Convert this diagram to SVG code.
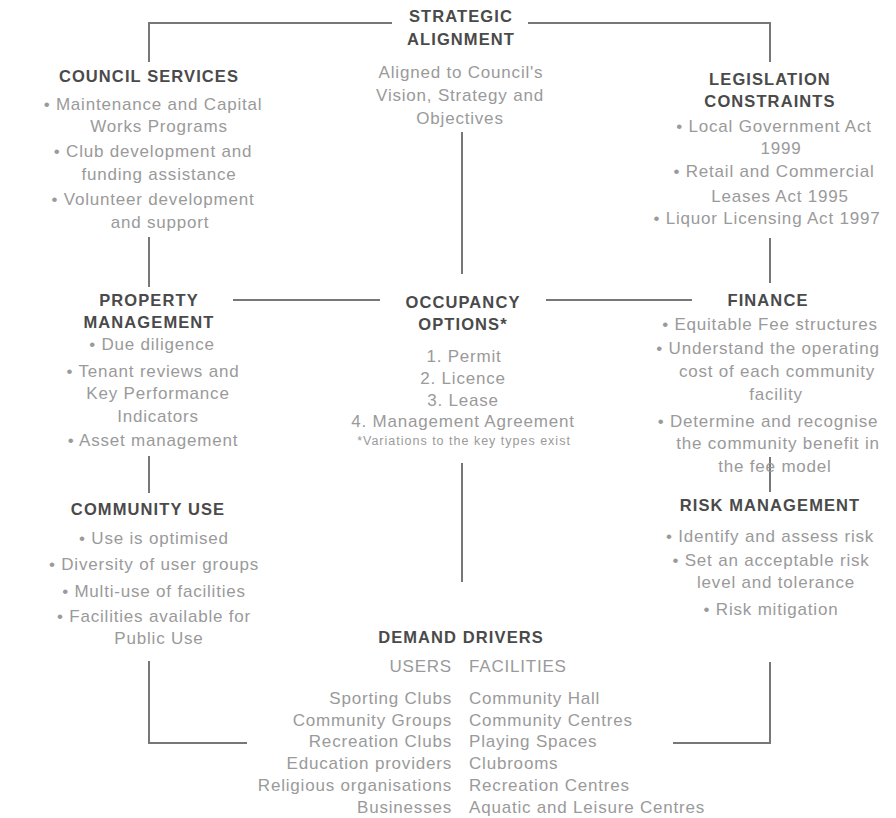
<svg xmlns="http://www.w3.org/2000/svg" width="896" height="818" viewBox="0 0 896 818">
<style>
.h{font-family:"Liberation Sans",Arial,sans-serif;font-weight:bold;font-size:16.5px;letter-spacing:1.1px;fill:#4a4a4a;text-anchor:middle}
.b{font-family:"Liberation Sans",Arial,sans-serif;font-size:17px;letter-spacing:0.8px;fill:#9a9a9a;text-anchor:middle}
.s{font-family:"Liberation Sans",Arial,sans-serif;font-size:12.5px;letter-spacing:1px;fill:#9a9a9a;text-anchor:middle}
.r{text-anchor:end}
.l{text-anchor:start}
.c{fill:none;stroke:#777;stroke-width:2}
</style>
<rect width="896" height="818" fill="#fff"/>
<g id="connectors">
<polyline class="c" points="149,62 149,23 392,23"/>
<polyline class="c" points="528,23 770,23 770,62"/>
<line class="c" x1="462" y1="132" x2="462" y2="274"/>
<line class="c" x1="149" y1="237" x2="149" y2="287"/>
<line class="c" x1="233" y1="300" x2="380" y2="300"/>
<line class="c" x1="546" y1="300" x2="692" y2="300"/>
<line class="c" x1="770" y1="238" x2="770" y2="283"/>
<line class="c" x1="149" y1="456" x2="149" y2="493"/>
<line class="c" x1="770" y1="457" x2="770" y2="492"/>
<line class="c" x1="462" y1="463" x2="462" y2="582"/>
<polyline class="c" points="149,661 149,743 247,743"/>
<polyline class="c" points="673,743 770,743 770,662"/>
</g>
<g id="strategic-alignment">
<text class="h" x="461" y="22">STRATEGIC</text>
<text class="h" x="461" y="45">ALIGNMENT</text>
<text class="b" x="461" y="78">Aligned to Council's</text>
<text class="b" x="460" y="101">Vision, Strategy and</text>
<text class="b" x="460" y="124">Objectives</text>
</g>
<g id="council-services">
<text class="h" x="149" y="82">COUNCIL SERVICES</text>
<text class="b" x="153" y="110">• Maintenance and Capital</text>
<text class="b" x="159" y="132">Works Programs</text>
<text class="b" x="153" y="157">• Club development and</text>
<text class="b" x="159" y="180">funding assistance</text>
<text class="b" x="153" y="205">• Volunteer development</text>
<text class="b" x="160" y="228">and support</text>
</g>
<g id="legislation-constraints">
<text class="h" x="770" y="85">LEGISLATION</text>
<text class="h" x="770" y="107">CONSTRAINTS</text>
<text class="b" x="774" y="132">• Local Government Act</text>
<text class="b" x="781" y="154">1999</text>
<text class="b" x="774" y="177">• Retail and Commercial</text>
<text class="b" x="780" y="202">Leases Act 1995</text>
<text class="b" x="767" y="224">• Liquor Licensing Act 1997</text>
</g>
<g id="property-management">
<text class="h" x="149" y="306">PROPERTY</text>
<text class="h" x="149" y="328">MANAGEMENT</text>
<text class="b" x="152" y="350">• Due diligence</text>
<text class="b" x="153" y="377">• Tenant reviews and</text>
<text class="b" x="158" y="399">Key Performance</text>
<text class="b" x="158" y="422">Indicators</text>
<text class="b" x="153" y="446">• Asset management</text>
</g>
<g id="occupancy-options">
<text class="h" x="463" y="308">OCCUPANCY</text>
<text class="h" x="463" y="330">OPTIONS*</text>
<text class="b" x="464" y="362">1. Permit</text>
<text class="b" x="463" y="384">2. Licence</text>
<text class="b" x="463" y="406">3. Lease</text>
<text class="b" x="463" y="427">4. Management Agreement</text>
<text class="s" x="464" y="445">*Variations to the key types exist</text>
</g>
<g id="finance">
<text class="h" x="768" y="306">FINANCE</text>
<text class="b" x="770" y="330">• Equitable Fee structures</text>
<text class="b" x="768" y="354">• Understand the operating</text>
<text class="b" x="777" y="377">cost of each community</text>
<text class="b" x="776" y="400">facility</text>
<text class="b" x="768" y="427">• Determine and recognise</text>
<text class="b" x="778" y="449">the community benefit in</text>
<text class="b" x="775" y="472">the fee model</text>
</g>
<g id="community-use">
<text class="h" x="148" y="515">COMMUNITY USE</text>
<text class="b" x="154" y="544">• Use is optimised</text>
<text class="b" x="154" y="570">• Diversity of user groups</text>
<text class="b" x="154" y="597">• Multi-use of facilities</text>
<text class="b" x="154" y="622">• Facilities available for</text>
<text class="b" x="159" y="644">Public Use</text>
</g>
<g id="risk-management">
<text class="h" x="770" y="511">RISK MANAGEMENT</text>
<text class="b" x="770" y="542">• Identify and assess risk</text>
<text class="b" x="771" y="566">• Set an acceptable risk</text>
<text class="b" x="776" y="588">level and tolerance</text>
<text class="b" x="771" y="615">• Risk mitigation</text>
</g>
<g id="demand-drivers">
<text class="h" x="461" y="643">DEMAND DRIVERS</text>
<text class="b r" x="452" y="672">USERS</text>
<text class="b l" x="469" y="672">FACILITIES</text>
<text class="b r" x="452" y="704">Sporting Clubs</text>
<text class="b r" x="452" y="726">Community Groups</text>
<text class="b r" x="452" y="747">Recreation Clubs</text>
<text class="b r" x="452" y="769">Education providers</text>
<text class="b r" x="452" y="791">Religious organisations</text>
<text class="b r" x="452" y="813">Businesses</text>
<text class="b l" x="469" y="704">Community Hall</text>
<text class="b l" x="469" y="726">Community Centres</text>
<text class="b l" x="469" y="747">Playing Spaces</text>
<text class="b l" x="469" y="769">Clubrooms</text>
<text class="b l" x="469" y="791">Recreation Centres</text>
<text class="b l" x="469" y="813">Aquatic and Leisure Centres</text>
</g>
</svg>
